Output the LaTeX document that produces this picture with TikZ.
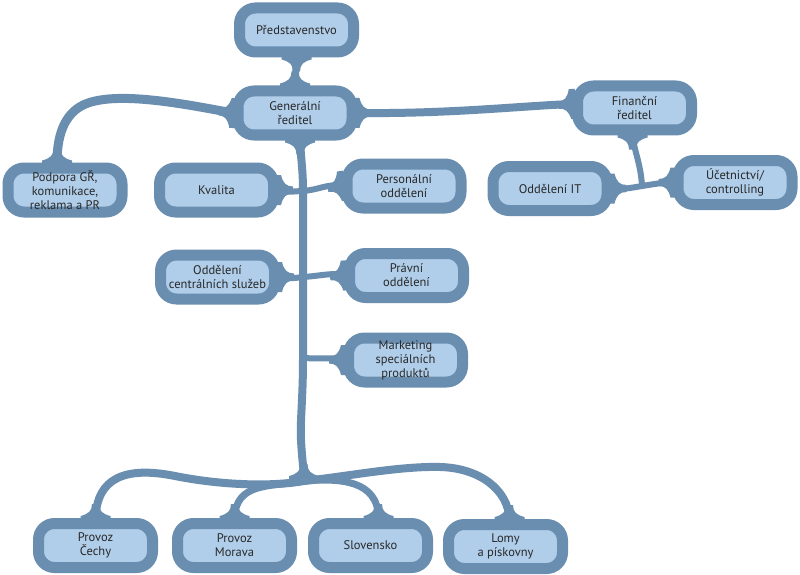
\documentclass[tikz,border=0pt]{standalone}
\usepackage{fontspec}
\setmainfont{PT Sans}
\usetikzlibrary{backgrounds}
\definecolor{rim}{RGB}{106,142,176}
\definecolor{fillb}{RGB}{176,206,234}
\definecolor{txt}{RGB}{40,40,40}
\begin{document}
\begin{tikzpicture}[x=1pt,y=-1pt,
  box/.style={draw=rim, line width=11pt, fill=fillb, rounded corners=16pt,
    minimum width=114pt, minimum height=44pt, align=center, text=txt,
    font=\fontsize{12.5}{14}\selectfont, inner sep=0pt},
  conn/.style={draw=rim, line width=7pt, line cap=round},
  flare/.pic={\fill[rim] (-3.5,-14) .. controls (-3.5,-7) and (-7,-4) .. (-15,-2)
      -- (-15,4) -- (15,4) -- (15,-2) .. controls (7,-4) and (3.5,-7) .. (3.5,-14) -- cycle;}]
\useasboundingbox (0,0) rectangle (800,575);

\node[box] (pred) at (296.5,30) {Představenstvo};
\node[box] (gen) at (295,113) {Generální\\ředitel};
\node[box] (fin) at (634.5,108) {Finanční\\ředitel};
\node[box] (pod) at (65,190) {Podpora GŘ,\\komunikace,\\reklama a PR};
\node[box] (kval) at (216.5,190) {Kvalita};
\node[box] (pers) at (404,186) {Personální\\oddělení};
\node[box] (it) at (550,188.5) {Oddělení IT};
\node[box] (uc) at (735,182.5) {Účetnictví/\\controlling};
\node[box] (ocs) at (217.5,277) {Oddělení\\centrálních služeb};
\node[box] (prav) at (406.5,275.5) {Právní\\oddělení};
\node[box] (mark) at (405.5,360) {Marketing\\speciálních\\produktů};
\node[box] (cech) at (95.5,545.5) {Provoz\\Čechy};
\node[box] (mor) at (234.5,545.5) {Provoz\\Morava};
\node[box] (slo) at (370.5,545.5) {Slovensko};
\node[box] (lom) at (505.5,546.5) {Lomy\\a pískovny};

\coordinate (j1) at (303,191);
\coordinate (j2) at (303,277);
\coordinate (j3) at (303,358);
\coordinate (jb) at (304,481);
\coordinate (jf) at (642,186);

\begin{scope}[on background layer]
\fill[white] (0,0) rectangle (800,575);
% top
\draw[conn] (pred) -- (gen);
\draw[conn, line width=9pt] (gen.west) .. controls (180,103) and (120,92) .. (88,103)
   .. controls (62,112) and (57,140) .. ([xshift=-8pt]pod.north);
\draw[conn, line width=8pt] (gen.east) .. controls (450,114) and (520,106) .. ([yshift=4pt]fin.west);
% trunk
\draw[conn, line width=8pt] ([xshift=5pt]gen.south) .. controls (301,160) and (303,170) .. (j1)
   .. controls (303,230) and (303,250) .. (j2)
   .. controls (303,310) and (303,330) .. (j3)
   .. controls (303,400) and (300,420) .. (301,440)
   .. controls (302,460) and (304,470) .. (jb);
\draw[conn, line width=6pt] (kval.east) .. controls (290,193) and (295,191) .. (j1)
   .. controls (318,190) and (330,183) .. (pers.west);
\draw[conn, line width=6pt] (ocs.east) .. controls (290,279) and (295,278) .. (j2)
   .. controls (320,276) and (335,272) .. (prav.west);
\draw[conn, line width=6pt] (j3) .. controls (320,359) and (335,357) .. (mark.west);
% bottom
\draw[conn, line width=8pt] (jb) .. controls (270,487) and (220,485) .. (175,476)
   .. controls (125,466) and (97,478) .. (cech.north);
\draw[conn] (jb) .. controls (270,487) and (236,482) .. (mor.north);
\draw[conn] (jb) .. controls (340,478) and (378,480) .. ([xshift=8pt]slo.north);
\draw[conn, line width=8pt] (jb) .. controls (350,476) and (400,466) .. (440,467)
   .. controls (480,468) and (508,490) .. ([xshift=4pt]lom.north);
% finance
\draw[conn, line width=6pt] ([xshift=-2pt]fin.south) .. controls (634,150) and (641,165) .. (jf);
\draw[conn, line width=6pt] (it.east) .. controls (620,190) and (630,188) .. (jf)
   .. controls (655,184) and (665,182) .. (uc.west);
% flares
\pic[rotate=180] at (pred.south) {flare};
\pic at (gen.north) {flare};
\pic[rotate=85] at (gen.west) {flare};
\pic[rotate=-90] at (gen.east) {flare};
\pic[rotate=95] at ([yshift=4pt]fin.west) {flare};
\pic[rotate=180] at ([xshift=5pt]gen.south) {flare};
\pic at ([xshift=-8pt]pod.north) {flare};
\pic[rotate=-90] at (kval.east) {flare};
\pic[rotate=100] at (pers.west) {flare};
\pic[rotate=-90] at (ocs.east) {flare};
\pic[rotate=95] at (prav.west) {flare};
\pic[rotate=90] at (mark.west) {flare};
\pic at (cech.north) {flare};
\pic at (mor.north) {flare};
\pic at ([xshift=8pt]slo.north) {flare};
\pic at ([xshift=4pt]lom.north) {flare};
\pic[rotate=180] at ([xshift=-2pt]fin.south) {flare};
\pic[rotate=-90] at (it.east) {flare};
\pic[rotate=90] at (uc.west) {flare};
\pic at ([yshift=3pt]jb) {flare};
\end{scope}
\end{tikzpicture}
\end{document}
